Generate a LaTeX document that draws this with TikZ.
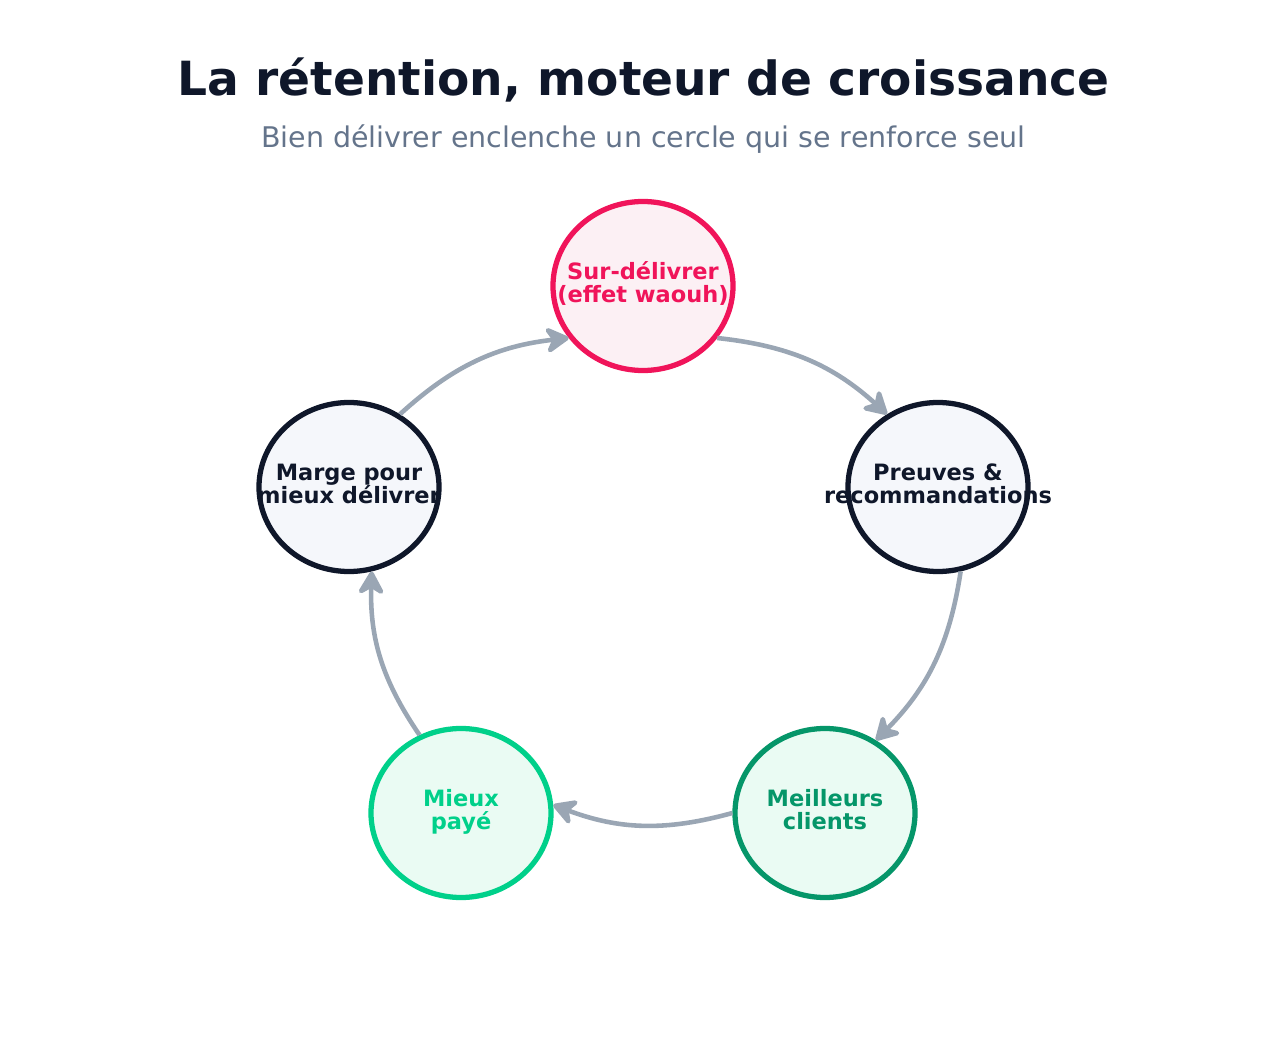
\documentclass[tikz,border=0pt]{standalone}
\usepackage{fontspec}
\setmainfont{DejaVu Sans}
\usetikzlibrary{shapes.geometric, arrows.meta}
\definecolor{ink}{HTML}{0F172A}
\definecolor{sub}{HTML}{64748B}
\definecolor{pinkc}{HTML}{F0145A}
\definecolor{pinkf}{HTML}{FCF0F4}
\definecolor{darkf}{HTML}{F5F7FB}
\definecolor{greenc}{HTML}{059669}
\definecolor{lightg}{HTML}{00D08A}
\definecolor{greenf}{HTML}{EAFBF3}
\definecolor{arrc}{HTML}{9AA6B4}
% text that does not widen its node
\newcommand{\twolines}[2]{\makebox[0pt]{\begin{tabular}{@{}c@{}}#1\\[-1pt]#2\end{tabular}}}

\begin{document}
\begin{tikzpicture}[
stage/.style = {% cycle nodes
    ellipse, minimum width=1.8cm, minimum height=1.69cm, line width=1.5pt,
    font=\fontsize{6.4}{7.6}\selectfont\bfseries, inner sep=0pt,
            },
arr/.style = {% cycle arrows
    arrc, line width=1.3pt, -{Stealth[length=8pt,width=9pt,round]},
            },
                        ]
\useasboundingbox (0,0) rectangle (12.87,10.44);
% titles
\node[ink, font=\fontsize{13.4}{16}\selectfont\bfseries] (title) at (6.435,9.64) {La rétention, moteur de croissance};
\node[sub, font=\fontsize{8.1}{10}\selectfont] (subtitle) at (6.435,9.05) {Bien délivrer enclenche un cercle qui se renforce seul};
% nodes
\node[stage, draw=pinkc, fill=pinkf, text=pinkc] (wow) at (6.43,7.58) {\twolines{Sur-délivrer}{(effet waouh)}};
\node[stage, draw=ink, fill=darkf, text=ink] (proof) at (9.38,5.57) {\twolines{Preuves \&}{recommandations}};
\node[stage, draw=greenc, fill=greenf, text=greenc] (clients) at (8.25,2.31) {\twolines{Meilleurs}{clients}};
\node[stage, draw=lightg, fill=greenf, text=lightg] (paid) at (4.61,2.31) {\twolines{Mieux}{payé}};
\node[stage, draw=ink, fill=darkf, text=ink] (margin) at (3.49,5.57) {\twolines{Marge pour}{mieux délivrer}};
% arrows
\draw[arr] (wow.-35) to[bend left=18] (proof.125);
\draw[arr] (proof.-75) to[bend left=18] (clients.55);
\draw[arr] (clients.180) to[bend left=18] (paid.5);
\draw[arr] (paid.118) to[bend left=18] (margin.-75);
\draw[arr] (margin.55) to[bend left=18] (wow.215);
\end{tikzpicture}
\end{document}
